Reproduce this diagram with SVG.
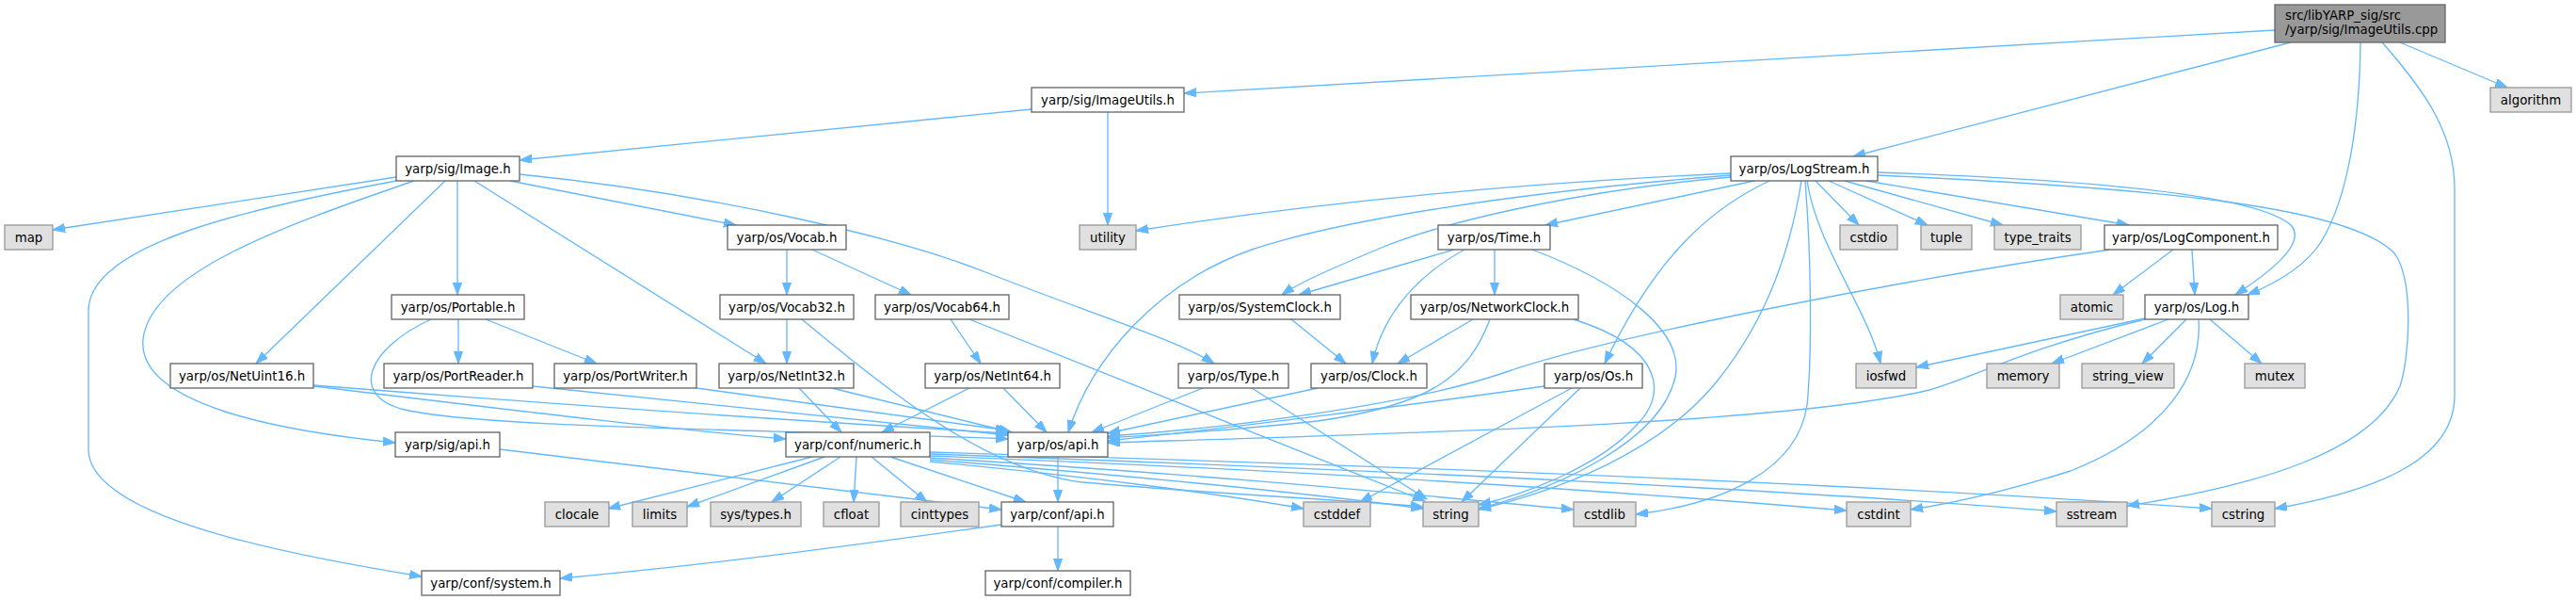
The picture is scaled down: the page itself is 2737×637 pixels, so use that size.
<svg xmlns="http://www.w3.org/2000/svg" width="2737" height="637" viewBox="0 0 2737 637">
<defs>
<marker id="a" markerUnits="userSpaceOnUse" markerWidth="14" markerHeight="10" refX="13" refY="4.6" orient="auto"><path d="M0,0 L13,4.6 L0,9.2 z" fill="#63b8ff" stroke="#63b8ff" stroke-width="1"/></marker>
</defs>
<style>
.e path{fill:none;stroke:#63b8ff;stroke-width:1.33;marker-end:url(#a)}
.n rect{fill:#ffffff;stroke:#666666;stroke-width:1.33}
.g rect{fill:#e0e0e0;stroke:#999999;stroke-width:1.33}
.t rect{fill:#999999;stroke:#666666;stroke-width:1.33}
text{font-family:"DejaVu Sans","Liberation Sans",sans-serif;font-size:13.33px;fill:#000000;text-anchor:middle}
.t text{text-anchor:start}
</style>
<rect width="2737" height="637" fill="#ffffff"/>
<g class="e" id="edges">
<path d="M2417,32 L1258,99"/>
<path d="M2434,45 L1969,166"/>
<path d="M2508,45 C2507,130 2495,210 2466,257 C2450,282 2420,300 2388,313"/>
<path d="M2531,45 C2575,95 2608,140 2608,200 L2608,420 C2608,490 2520,522 2417,540"/>
<path d="M2550,45 L2664,93"/>
<path d="M1096,116 L552,170"/>
<path d="M1177,119 L1177,239"/>
<path d="M421,188 L56,244"/>
<path d="M421,192 C260,222 94,260 94,330 L94,477 C94,545 280,585 448,612"/>
<path d="M440,192 C300,240 160,290 152,360 C145,430 300,458 420,470"/>
<path d="M473,192 L272,386"/>
<path d="M486,192 L486,313"/>
<path d="M504,192 L814,386"/>
<path d="M542,192 L782,239"/>
<path d="M552,185 C750,205 950,250 1050,290 C1150,330 1250,360 1290,386"/>
<path d="M458,339 C390,370 370,420 430,435 C520,455 800,455 1071,466"/>
<path d="M487,339 L487,386"/>
<path d="M516,339 L634,386"/>
<path d="M333,410 C500,430 700,455 835,466"/>
<path d="M333,409 C600,430 900,450 1071,460"/>
<path d="M566,410 L1071,462"/>
<path d="M740,412 L1071,457"/>
<path d="M531,477 L1064,541"/>
<path d="M836,265 L836,313"/>
<path d="M863,265 L968,313"/>
<path d="M836,339 L836,386"/>
<path d="M852,339 C950,420 1050,500 1150,512 C1300,525 1420,530 1512,538"/>
<path d="M1010,339 L1042,386"/>
<path d="M1030,339 L1514,532"/>
<path d="M849,412 L894,459"/>
<path d="M884,412 L1075,459"/>
<path d="M1030,412 L937,459"/>
<path d="M1066,412 L1112,459"/>
<path d="M1278,412 L1160,459"/>
<path d="M1330,412 L1516,530"/>
<path d="M1372,339 L1430,386"/>
<path d="M1545,265 L1380,313"/>
<path d="M1839,188 C1700,200 1550,230 1470,262 C1420,283 1380,300 1362,313"/>
<path d="M1556,265 C1510,290 1470,330 1458,386"/>
<path d="M1588,265 L1588,313"/>
<path d="M1628,265 C1720,300 1790,350 1780,400 C1765,470 1650,520 1571,540"/>
<path d="M1565,339 L1485,386"/>
<path d="M1583,339 C1560,400 1520,430 1400,447 C1300,458 1220,462 1177,465"/>
<path d="M1672,339 C1770,370 1770,420 1740,450 C1700,495 1620,525 1571,536"/>
<path d="M1400,412 L1177,460"/>
<path d="M1641,410 C1500,430 1300,455 1177,468"/>
<path d="M1670,412 L1445,533"/>
<path d="M1679,412 L1553,533"/>
<path d="M1839,184 C1600,195 1400,215 1207,245"/>
<path d="M1839,186 C1600,205 1420,235 1330,265 C1230,300 1160,380 1135,459"/>
<path d="M1864,192 L1642,239"/>
<path d="M1880,192 C1820,220 1760,270 1705,386"/>
<path d="M1914,192 C1900,280 1870,350 1820,410 C1760,480 1660,520 1571,541"/>
<path d="M1918,192 C1925,280 1925,380 1920,430 C1910,500 1830,535 1738,546"/>
<path d="M1920,192 C1930,260 1985,330 1998,386"/>
<path d="M1929,192 L1975,239"/>
<path d="M1943,192 L2048,239"/>
<path d="M1960,192 L2128,239"/>
<path d="M1983,192 L2262,239"/>
<path d="M1995,183 C2200,190 2400,205 2435,240 C2450,260 2410,290 2375,313"/>
<path d="M1995,186 C2300,200 2500,220 2545,270 C2565,300 2560,380 2550,410 C2520,480 2400,515 2260,537"/>
<path d="M2279,338 L2036,390"/>
<path d="M2279,339 C2150,370 2100,400 2050,414 C1900,450 1500,460 1177,470"/>
<path d="M2304,339 L2180,386"/>
<path d="M2323,339 L2276,386"/>
<path d="M2348,339 L2403,386"/>
<path d="M2336,339 C2340,400 2300,460 2200,500 C2120,525 2070,535 2030,541"/>
<path d="M2309,265 L2245,313"/>
<path d="M2329,265 L2332,313"/>
<path d="M2242,265 C2000,300 1700,360 1600,395 C1500,430 1300,455 1177,463"/>
<path d="M863,485 L646,540"/>
<path d="M876,485 L730,538"/>
<path d="M893,485 L820,533"/>
<path d="M910,485 L907,533"/>
<path d="M926,485 L985,533"/>
<path d="M946,485 L1090,533"/>
<path d="M988,490 C1150,505 1300,525 1385,540"/>
<path d="M988,488 C1200,505 1400,525 1512,540"/>
<path d="M988,486 C1300,505 1500,525 1672,541"/>
<path d="M988,484 C1400,500 1700,520 1962,542"/>
<path d="M988,482 C1500,500 1900,520 2185,543"/>
<path d="M988,480 C1500,495 2000,515 2350,540"/>
<path d="M1124,485 L1124,533"/>
<path d="M1124,559 L1124,606"/>
<path d="M1064,557 C900,580 750,600 595,614"/>
</g>
<g id="n_top" class="t"><rect x="2417" y="5" width="181" height="40"/><text x="2428" y="21">src/libYARP_sig/src</text><text x="2428" y="36">/yarp/sig/ImageUtils.cpp</text></g>
<g id="n_imageutils_h" class="n"><rect x="1096" y="93" width="162" height="26"/><text x="1177" y="110.5">yarp/sig/ImageUtils.h</text></g>
<g id="n_algorithm" class="g"><rect x="2646" y="93" width="86" height="26"/><text x="2689" y="110.5">algorithm</text></g>
<g id="n_image_h" class="n"><rect x="421" y="166" width="131" height="26"/><text x="486.5" y="183.5">yarp/sig/Image.h</text></g>
<g id="n_logstream_h" class="n"><rect x="1839" y="166" width="156" height="26"/><text x="1917" y="183.5">yarp/os/LogStream.h</text></g>
<g id="n_map" class="g"><rect x="5" y="239" width="51" height="26"/><text x="30.5" y="256.5">map</text></g>
<g id="n_utility" class="g"><rect x="1147" y="239" width="60" height="26"/><text x="1177" y="256.5">utility</text></g>
<g id="n_vocab_h" class="n"><rect x="773" y="239" width="126" height="26"/><text x="836" y="256.5">yarp/os/Vocab.h</text></g>
<g id="n_time_h" class="n"><rect x="1528" y="239" width="119" height="26"/><text x="1587.5" y="256.5">yarp/os/Time.h</text></g>
<g id="n_cstdio" class="g"><rect x="1955" y="239" width="61" height="26"/><text x="1985.5" y="256.5">cstdio</text></g>
<g id="n_tuple" class="g"><rect x="2041" y="239" width="54" height="26"/><text x="2068" y="256.5">tuple</text></g>
<g id="n_type_traits" class="g"><rect x="2119" y="239" width="92" height="26"/><text x="2165" y="256.5">type_traits</text></g>
<g id="n_logcomponent_h" class="n"><rect x="2236" y="239" width="184" height="26"/><text x="2328" y="256.5">yarp/os/LogComponent.h</text></g>
<g id="n_portable_h" class="n"><rect x="416" y="313" width="141" height="26"/><text x="486.5" y="330.5">yarp/os/Portable.h</text></g>
<g id="n_vocab32_h" class="n"><rect x="765" y="313" width="142" height="26"/><text x="836" y="330.5">yarp/os/Vocab32.h</text></g>
<g id="n_vocab64_h" class="n"><rect x="930" y="313" width="142" height="26"/><text x="1001" y="330.5">yarp/os/Vocab64.h</text></g>
<g id="n_systemclock_h" class="n"><rect x="1253" y="313" width="171" height="26"/><text x="1338.5" y="330.5">yarp/os/SystemClock.h</text></g>
<g id="n_networkclock_h" class="n"><rect x="1499" y="313" width="178" height="26"/><text x="1588" y="330.5">yarp/os/NetworkClock.h</text></g>
<g id="n_atomic" class="g"><rect x="2189" y="313" width="67" height="26"/><text x="2222.5" y="330.5">atomic</text></g>
<g id="n_log_h" class="n"><rect x="2279" y="313" width="110" height="26"/><text x="2334" y="330.5">yarp/os/Log.h</text></g>
<g id="n_netuint16_h" class="n"><rect x="181" y="386" width="152" height="26"/><text x="257" y="403.5">yarp/os/NetUint16.h</text></g>
<g id="n_portreader_h" class="n"><rect x="408" y="386" width="158" height="26"/><text x="487" y="403.5">yarp/os/PortReader.h</text></g>
<g id="n_portwriter_h" class="n"><rect x="589" y="386" width="151" height="26"/><text x="664.5" y="403.5">yarp/os/PortWriter.h</text></g>
<g id="n_netint32_h" class="n"><rect x="764" y="386" width="143" height="26"/><text x="835.5" y="403.5">yarp/os/NetInt32.h</text></g>
<g id="n_netint64_h" class="n"><rect x="983" y="386" width="143" height="26"/><text x="1054.5" y="403.5">yarp/os/NetInt64.h</text></g>
<g id="n_type_h" class="n"><rect x="1252" y="386" width="117" height="26"/><text x="1310.5" y="403.5">yarp/os/Type.h</text></g>
<g id="n_clock_h" class="n"><rect x="1393" y="386" width="123" height="26"/><text x="1454.5" y="403.5">yarp/os/Clock.h</text></g>
<g id="n_os_h" class="n"><rect x="1641" y="386" width="104" height="26"/><text x="1693" y="403.5">yarp/os/Os.h</text></g>
<g id="n_iosfwd" class="g"><rect x="1972" y="386" width="64" height="26"/><text x="2004" y="403.5">iosfwd</text></g>
<g id="n_memory" class="g"><rect x="2111" y="386" width="77" height="26"/><text x="2149.5" y="403.5">memory</text></g>
<g id="n_string_view" class="g"><rect x="2212" y="386" width="98" height="26"/><text x="2261" y="403.5">string_view</text></g>
<g id="n_mutex" class="g"><rect x="2385" y="386" width="64" height="26"/><text x="2417" y="403.5">mutex</text></g>
<g id="n_sig_api_h" class="n"><rect x="420" y="459" width="111" height="26"/><text x="475.5" y="476.5">yarp/sig/api.h</text></g>
<g id="n_numeric_h" class="n"><rect x="835" y="459" width="153" height="26"/><text x="911.5" y="476.5">yarp/conf/numeric.h</text></g>
<g id="n_os_api_h" class="n"><rect x="1071" y="459" width="106" height="26"/><text x="1124" y="476.5">yarp/os/api.h</text></g>
<g id="n_clocale" class="g"><rect x="579" y="533" width="68" height="26"/><text x="613" y="550.5">clocale</text></g>
<g id="n_limits" class="g"><rect x="672" y="533" width="58" height="26"/><text x="701" y="550.5">limits</text></g>
<g id="n_sys_types_h" class="g"><rect x="755" y="533" width="96" height="26"/><text x="803" y="550.5">sys/types.h</text></g>
<g id="n_cfloat" class="g"><rect x="875" y="533" width="59" height="26"/><text x="904.5" y="550.5">cfloat</text></g>
<g id="n_cinttypes" class="g"><rect x="957" y="533" width="83" height="26"/><text x="998.5" y="550.5">cinttypes</text></g>
<g id="n_conf_api_h" class="n"><rect x="1064" y="533" width="119" height="26"/><text x="1123.5" y="550.5">yarp/conf/api.h</text></g>
<g id="n_cstddef" class="g"><rect x="1385" y="533" width="71" height="26"/><text x="1420.5" y="550.5">cstddef</text></g>
<g id="n_string" class="g"><rect x="1512" y="533" width="59" height="26"/><text x="1541.5" y="550.5">string</text></g>
<g id="n_cstdlib" class="g"><rect x="1672" y="533" width="66" height="26"/><text x="1705" y="550.5">cstdlib</text></g>
<g id="n_cstdint" class="g"><rect x="1962" y="533" width="68" height="26"/><text x="1996" y="550.5">cstdint</text></g>
<g id="n_sstream" class="g"><rect x="2185" y="533" width="75" height="26"/><text x="2222.5" y="550.5">sstream</text></g>
<g id="n_cstring" class="g"><rect x="2350" y="533" width="67" height="26"/><text x="2383.5" y="550.5">cstring</text></g>
<g id="n_system_h" class="n"><rect x="448" y="606" width="147" height="26"/><text x="521.5" y="623.5">yarp/conf/system.h</text></g>
<g id="n_compiler_h" class="n"><rect x="1047" y="606" width="154" height="26"/><text x="1124" y="623.5">yarp/conf/compiler.h</text></g>
</svg>
